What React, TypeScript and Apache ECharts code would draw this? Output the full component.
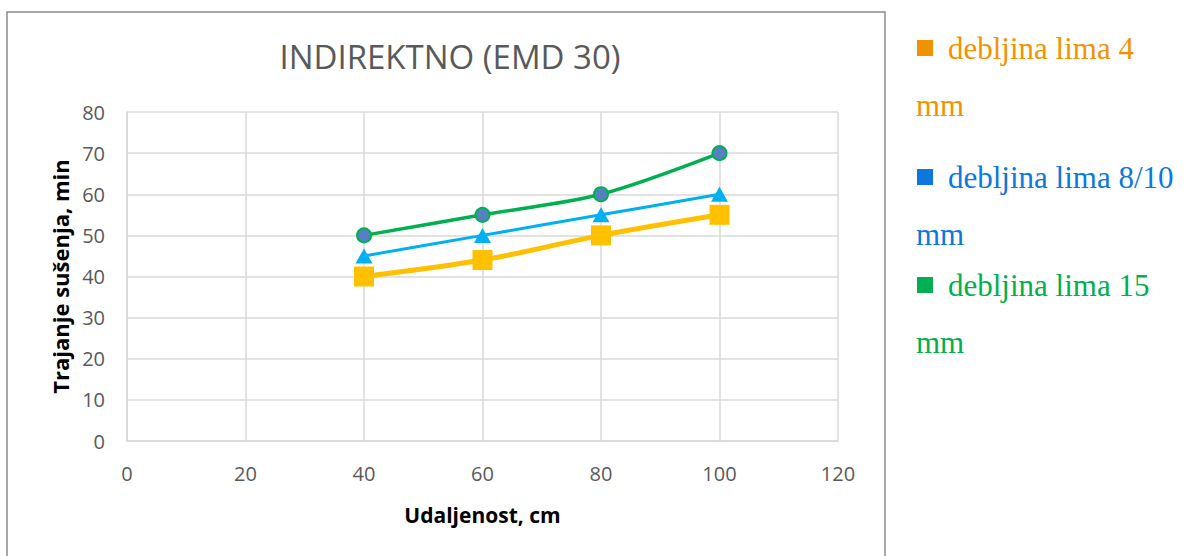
import React, { useEffect, useRef } from "react";
import * as echarts from "echarts";

const xValues = [40, 60, 80, 100];
const series4mm = [40, 44, 50, 55];
const series810mm = [45, 50, 55, 60];
const series15mm = [50, 55, 60, 70];
const seriesNames = ["debljina lima 4 mm", "debljina lima 8/10 mm", "debljina lima 15 mm"];
const legendLine1 = ["debljina lima 4", "debljina lima 8/10", "debljina lima 15"];
const legendLine2 = ["mm", "mm", "mm"];
const legendColors = ["#F39200", "#0A78DC", "#00B050"];
const legendTops = [48, 177, 285];

export default function App() {
  const ref = useRef<HTMLDivElement>(null);
  useEffect(() => {
    document.body.style.margin = "0";
    const chart = echarts.init(ref.current!, null, { renderer: "svg" });
    const pair = (ys: number[]) => xValues.map((x, i) => [x, ys[i]]);
    const graphic: any[] = [
      {
        type: "rect",
        shape: { x: 7, y: 12, width: 878, height: 600 },
        style: { fill: "none", stroke: "#8C8C8C", lineWidth: 1.5 },
        silent: true,
      },
    ];
    legendTops.forEach((t, i) => {
      graphic.push({
        type: "rect",
        shape: { x: 917, y: t - 8, width: 16, height: 16 },
        style: { fill: legendColors[i] },
      });
      graphic.push({
        type: "text",
        x: 948,
        y: t,
        style: {
          text: legendLine1[i],
          fill: legendColors[i],
          font: '31px "Liberation Serif"',
          verticalAlign: "middle",
        },
      });
      graphic.push({
        type: "text",
        x: 916,
        y: t + 57,
        style: {
          text: legendLine2[i],
          fill: legendColors[i],
          font: '31px "Liberation Serif"',
          verticalAlign: "middle",
        },
      });
    });
    chart.setOption({
      animation: false,
      backgroundColor: "#fff",
      title: {
        text: "INDIREKTNO (EMD 30)",
        left: 445,
        top: 35,
        textAlign: "center",
        textStyle: {
          fontFamily: "Open Sans",
          fontWeight: "normal",
          fontSize: 33,
          color: "#595959",
        },
      },
      grid: { left: 127, right: 354, top: 112, bottom: 115 },
      xAxis: {
        type: "value",
        min: 0,
        max: 120,
        interval: 20,
        name: "Udaljenost, cm",
        nameLocation: "middle",
        nameGap: 63,
        nameTextStyle: { fontFamily: "Open Sans", fontWeight: "bold", fontSize: 21, color: "#000" },
        axisLine: { show: true, lineStyle: { color: "#D9D9D9", width: 1.5 } },
        axisTick: { show: false },
        axisLabel: { fontFamily: "Open Sans", fontSize: 20, color: "#595959", margin: 22 },
        splitLine: { show: true, lineStyle: { color: "#D9D9D9", width: 1.5 } },
      },
      yAxis: {
        type: "value",
        min: 0,
        max: 80,
        interval: 10,
        name: "Trajanje sušenja, min",
        nameLocation: "middle",
        nameGap: 56,
        nameRotate: 90,
        nameTextStyle: { fontFamily: "Open Sans", fontWeight: "bold", fontSize: 22, color: "#000" },
        axisLine: { show: true, lineStyle: { color: "#D9D9D9", width: 1.5 } },
        axisTick: { show: false },
        axisLabel: { fontFamily: "Open Sans", fontSize: 20, color: "#595959", margin: 22 },
        splitLine: { show: true, lineStyle: { color: "#D9D9D9", width: 1.5 } },
      },
      series: [
        {
          name: seriesNames[0],
          type: "line",
          data: pair(series4mm),
          smooth: 0.3,
          symbol: "rect",
          symbolSize: 20,
          lineStyle: { color: "#FFC000", width: 5 },
          itemStyle: { color: "#FFC000" },
          z: 3,
        },
        {
          name: seriesNames[1],
          type: "line",
          data: pair(series810mm),
          smooth: 0.3,
          symbol: "triangle",
          symbolSize: [17, 15],
          lineStyle: { color: "#00B0F0", width: 3 },
          itemStyle: { color: "#00B0F0" },
          z: 4,
        },
        {
          name: seriesNames[2],
          type: "line",
          data: pair(series15mm),
          smooth: 0.3,
          symbol: "circle",
          symbolSize: 14,
          lineStyle: { color: "#00B050", width: 3.5 },
          itemStyle: { color: "#5581C0", borderColor: "#00B050", borderWidth: 2 },
          z: 5,
        },
      ],
      graphic,
    });
    return () => chart.dispose();
  }, []);
  return <div ref={ref} style={{ width: 1192, height: 556 }} />;
}
